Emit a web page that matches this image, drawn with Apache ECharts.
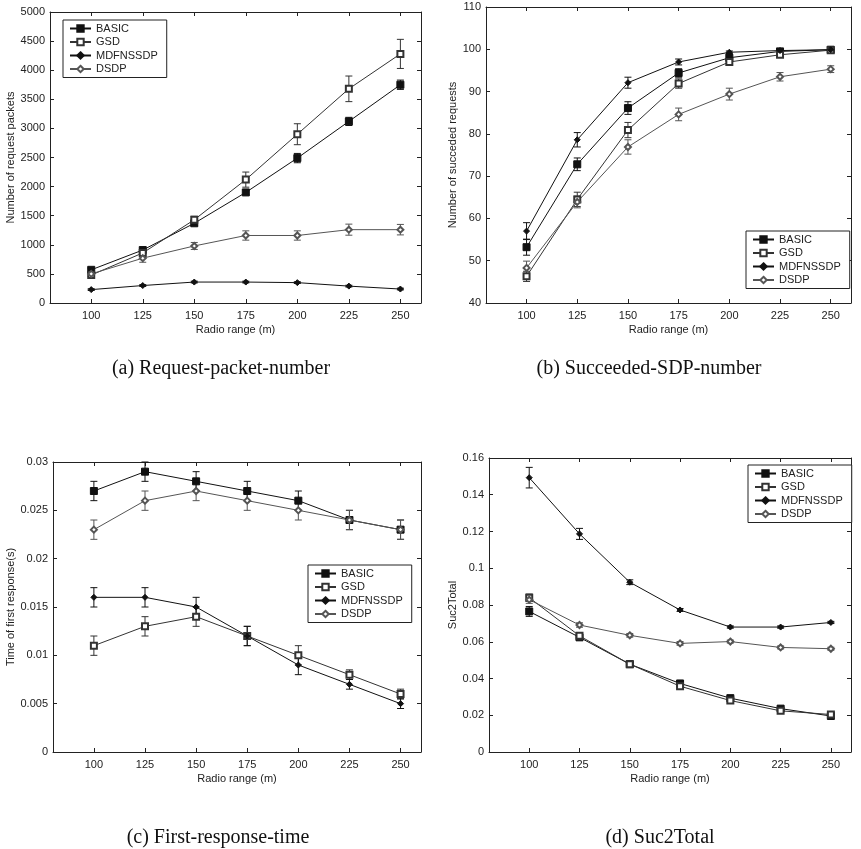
<!DOCTYPE html>
<html>
<head>
<meta charset="utf-8">
<script src="https://cdn.jsdelivr.net/npm/echarts@6/dist/echarts.min.js"></script>
<style>
html,body{margin:0;padding:0;background:#fff;}
#chart{width:861px;height:849px;}
</style>
</head>
<body>
<div id="chart"></div>
<script>
// ---------- data ----------
const radioRange = [100, 125, 150, 175, 200, 225, 250];
const xTickValues = [100, 125, 150, 175, 200, 225, 250];
const seriesNames = ['BASIC', 'GSD', 'MDFNSSDP', 'DSDP'];

// (a) Request-packet-number
const aBasic = [570, 910, 1370, 1900, 2490, 3120, 3750];
const aBasicErr = [30, 30, 40, 40, 80, 70, 80];
const aGsd = [480, 860, 1430, 2120, 2900, 3680, 4280];
const aGsdErr = [30, 40, 60, 130, 180, 220, 250];
const aMdf = [230, 300, 360, 360, 350, 290, 240];
const aMdfErr = [15, 15, 15, 15, 15, 15, 15];
const aDsdp = [500, 770, 980, 1160, 1160, 1260, 1260];
const aDsdpErr = [40, 70, 60, 80, 80, 95, 90];

// (b) Succeeded-SDP-number
const bBasic = [53.2, 72.8, 86.1, 94.4, 98.0, 99.5, 99.9];
const bBasicErr = [1.9, 1.5, 1.5, 1.0, 0.8, 0.3, 0.2];
const bGsd = [46.3, 64.5, 80.9, 91.9, 97.0, 98.7, 99.8];
const bGsdErr = [1.2, 1.7, 1.8, 1.1, 0.7, 0.4, 0.3];
const bMdf = [57.0, 78.6, 92.1, 97.0, 99.3, 99.7, 99.9];
const bMdfErr = [2.0, 1.7, 1.3, 0.7, 0.3, 0.3, 0.2];
const bDsdp = [48.3, 63.9, 76.9, 84.6, 89.4, 93.5, 95.3];
const bDsdpErr = [1.6, 1.4, 1.7, 1.5, 1.4, 1.0, 0.8];

// (c) First-response-time
const cBasic = [0.027, 0.029, 0.028, 0.027, 0.026, 0.024, 0.023];
const cBasicErr = [0.001, 0.001, 0.001, 0.001, 0.001, 0.001, 0.001];
const cGsd = [0.011, 0.013, 0.014, 0.012, 0.010, 0.008, 0.006];
const cGsdErr = [0.001, 0.001, 0.001, 0.001, 0.001, 0.0005, 0.0005];
const cMdf = [0.016, 0.016, 0.015, 0.012, 0.009, 0.007, 0.005];
const cMdfErr = [0.001, 0.001, 0.001, 0.001, 0.001, 0.0005, 0.0005];
const cDsdp = [0.023, 0.026, 0.027, 0.026, 0.025, 0.024, 0.023];
const cDsdpErr = [0.001, 0.001, 0.001, 0.001, 0.001, 0.001, 0.001];

// (d) Suc2Total
const dBasic = [0.0765, 0.0624, 0.0478, 0.0373, 0.0293, 0.0236, 0.0196];
const dBasicErr = [0.0027, 0.001, 0.001, 0.001, 0.0008, 0.0008, 0.0008];
const dGsd = [0.0840, 0.0632, 0.0478, 0.0358, 0.0280, 0.0224, 0.0204];
const dGsdErr = [0.002, 0.001, 0.001, 0.001, 0.0008, 0.0008, 0.0008];
const dMdf = [0.1493, 0.1187, 0.0924, 0.0773, 0.0680, 0.0680, 0.0705];
const dMdfErr = [0.0056, 0.003, 0.0013, 0.0008, 0.0006, 0.0006, 0.0006];
const dDsdp = [0.0829, 0.0691, 0.0635, 0.0591, 0.0601, 0.0569, 0.0562];
const dDsdpErr = [0.002, 0.0012, 0.001, 0.001, 0.0008, 0.0008, 0.0008];

const yAxisNames = ['Number of request packets', 'Number of succeded requests', 'Time of first response(s)', 'Suc2Total'];
const xAxisName = 'Radio range (m)';
const captions = ['(a) Request-packet-number', '(b) Succeeded-SDP-number', '(c) First-response-time', '(d) Suc2Total'];

// ---------- styling ----------
const FONT = 'Liberation Sans, Arial, sans-serif';
const AX = '#222';
const styles = {
  BASIC:    { symbol: 'rect',         size: 7, color: '#111' },
  GSD:      { symbol: 'emptyRect',    size: 6, color: '#333' },
  MDFNSSDP: { symbol: 'diamond',      size: 6, color: '#111' },
  DSDP:     { symbol: 'emptyDiamond', size: 6, color: '#555' }
};

const panels = [
  { grid: { left: 50, top: 12, width: 371, height: 291 }, y: { min: 0, max: 5000, interval: 500 }, nameGap: 33,
    vals: [aBasic, aGsd, aMdf, aDsdp], errs: [aBasicErr, aGsdErr, aMdfErr, aDsdpErr],
    legend: { left: 63, top: 20 } },
  { grid: { left: 486, top: 7, width: 365, height: 296 }, y: { min: 40, max: 110, interval: 10 }, nameGap: 28,
    vals: [bBasic, bGsd, bMdf, bDsdp], errs: [bBasicErr, bGsdErr, bMdfErr, bDsdpErr],
    legend: { left: 746, top: 231 } },
  { grid: { left: 53, top: 462, width: 368, height: 290 }, y: { min: 0, max: 0.03, interval: 0.005 }, nameGap: 36,
    vals: [cBasic, cGsd, cMdf, cDsdp], errs: [cBasicErr, cGsdErr, cMdfErr, cDsdpErr],
    legend: { left: 308, top: 565 } },
  { grid: { left: 489, top: 458, width: 362, height: 294 }, y: { min: 0, max: 0.16, interval: 0.02 }, nameGap: 31,
    vals: [dBasic, dGsd, dMdf, dDsdp], errs: [dBasicErr, dGsdErr, dMdfErr, dDsdpErr],
    legend: { left: 748, top: 465 } }
];

const captionPos = [
  { x: 216, y: 364 }, { x: 644, y: 364 }, { x: 213, y: 833 }, { x: 655, y: 833 }
];

const grids = [], xAxes = [], yAxes = [], series = [], legends = [], titles = [];

function errRender(color) {
  return function (params, api) {
    const x = api.value(0), lo = api.value(1), hi = api.value(2);
    const p1 = api.coord([x, lo]);
    const p2 = api.coord([x, hi]);
    const w = 3.5;
    const st = { stroke: color, lineWidth: 1 };
    return {
      type: 'group',
      children: [
        { type: 'line', shape: { x1: p1[0], y1: p1[1], x2: p2[0], y2: p2[1] }, style: st },
        { type: 'line', shape: { x1: p1[0] - w, y1: p1[1], x2: p1[0] + w, y2: p1[1] }, style: st },
        { type: 'line', shape: { x1: p2[0] - w, y1: p2[1], x2: p2[0] + w, y2: p2[1] }, style: st }
      ]
    };
  };
}

panels.forEach((p, i) => {
  grids.push(Object.assign({ containLabel: false, show: false }, p.grid));
  const xi = xAxes.length;
  xAxes.push({
    type: 'value', gridIndex: i, min: 80, max: 260, position: 'bottom',
    name: xAxisName, nameLocation: 'middle', nameGap: 21,
    nameTextStyle: { fontFamily: FONT, fontSize: 11, color: AX, verticalAlign: 'top' },
    axisLine: { show: true, onZero: false, lineStyle: { color: AX, width: 1 } },
    axisTick: { show: true, inside: true, length: 4, customValues: xTickValues, lineStyle: { color: AX } },
    axisLabel: { show: true, margin: 7, customValues: xTickValues, fontFamily: FONT, fontSize: 11, color: AX },
    splitLine: { show: false }
  });
  xAxes.push({
    type: 'value', gridIndex: i, min: 80, max: 260, position: 'top',
    axisLine: { show: true, onZero: false, lineStyle: { color: AX, width: 1 } },
    axisTick: { show: true, inside: true, length: 4, customValues: xTickValues, lineStyle: { color: AX } },
    axisLabel: { show: false },
    splitLine: { show: false }
  });
  const yi = yAxes.length;
  yAxes.push({
    type: 'value', gridIndex: i, position: 'left', min: p.y.min, max: p.y.max, interval: p.y.interval,
    name: yAxisNames[i], nameLocation: 'middle', nameGap: p.nameGap, nameRotate: 90,
    nameTextStyle: { fontFamily: FONT, fontSize: 11, color: AX },
    axisLine: { show: true, onZero: false, lineStyle: { color: AX, width: 1 } },
    axisTick: { show: true, inside: true, length: 4, lineStyle: { color: AX } },
    axisLabel: { show: true, margin: 5, fontFamily: FONT, fontSize: 11, color: AX,
      formatter: function (v) { return String(+v.toPrecision(6)); } },
    splitLine: { show: false }
  });
  yAxes.push({
    type: 'value', gridIndex: i, position: 'right', min: p.y.min, max: p.y.max, interval: p.y.interval,
    axisLine: { show: true, onZero: false, lineStyle: { color: AX, width: 1 } },
    axisTick: { show: true, inside: true, length: 4, lineStyle: { color: AX } },
    axisLabel: { show: false },
    splitLine: { show: false }
  });

  seriesNames.forEach((name, k) => {
    const s = styles[name];
    const vals = p.vals[k], errs = p.errs[k];
    series.push({
      type: 'custom', name: name + ' err ' + i, xAxisIndex: xi, yAxisIndex: yi,
      renderItem: errRender(s.color), silent: true, z: 2,
      encode: { x: 0, y: [1, 2] },
      data: radioRange.map((x, j) => [x, vals[j] - errs[j], vals[j] + errs[j]])
    });
    series.push({
      type: 'line', name: name, xAxisIndex: xi, yAxisIndex: yi,
      symbol: s.symbol, symbolSize: s.size, showAllSymbol: true, animation: false,
      lineStyle: { color: s.color, width: 1 },
      itemStyle: { color: s.color, borderColor: s.color, borderWidth: 1 },
      z: 3,
      data: radioRange.map((x, j) => [x, vals[j]])
    });
  });

  legends.push({
    data: seriesNames, orient: 'vertical', left: p.legend.left, top: p.legend.top,
    padding: [2, 9, 2, 6], itemGap: 0.5, itemWidth: 21, itemHeight: 8,
    borderColor: '#222', borderWidth: 1, backgroundColor: '#fff', selectedMode: false,
    textStyle: { fontFamily: FONT, fontSize: 11, color: AX, lineHeight: 13 }
  });

  titles.push({
    text: captions[i], left: captionPos[i].x, top: captionPos[i].y, textAlign: 'center', textVerticalAlign: 'middle',
    textStyle: { fontFamily: 'Liberation Serif, Times New Roman, serif', fontSize: 20, fontWeight: 'normal', color: '#111' }
  });
});

const chart = echarts.init(document.getElementById('chart'), null, { renderer: 'canvas' });
chart.setOption({
  animation: false,
  backgroundColor: '#fff',
  title: titles,
  grid: grids,
  xAxis: xAxes,
  yAxis: yAxes,
  legend: legends,
  series: series
});
</script>
</body>
</html>
